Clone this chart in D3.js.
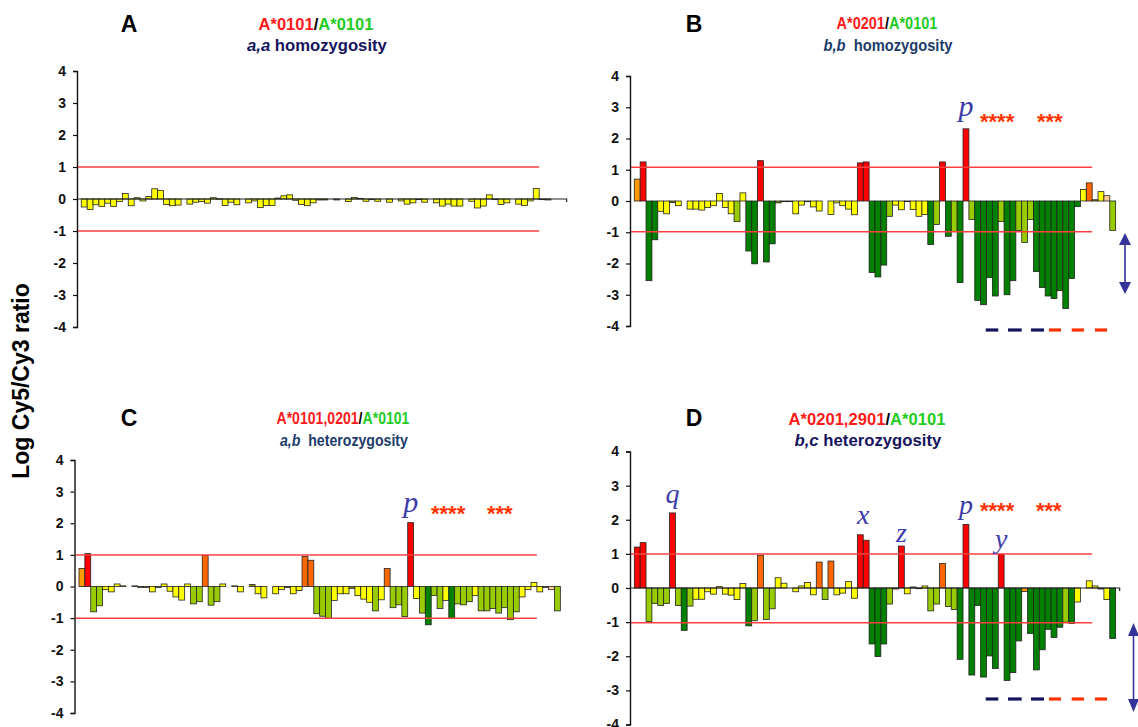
<!DOCTYPE html>
<html>
<head>
<meta charset="utf-8">
<script src="https://cdnjs.cloudflare.com/ajax/libs/d3/7.8.5/d3.min.js"></script>
<style>
  body { margin: 0; background: #fff; }
  svg { display: block; font-family: "Liberation Sans", Arial, sans-serif; }
</style>
</head>
<body>
<div id="chart"></div>
<script>
// Log Cy5/Cy3 ratio per probe (left to right)
var yTicks = [4, 3, 2, 1, 0, -1, -2, -3, -4];

var valuesA = [-0.25, -0.33, -0.18, -0.23, -0.13, -0.23, -0.08, 0.17, -0.21, 0.04,
    -0.06, 0.08, 0.32, 0.27, -0.17, -0.21, -0.19, 0, -0.16, -0.1,
    -0.08, -0.13, 0.04, 0.01, -0.2, -0.1, -0.18, 0, -0.12, -0.06,
    -0.27, -0.2, -0.2, 0.03, 0.1, 0.13, -0.04, -0.17, -0.21, -0.12,
    -0.03, -0.03, 0, -0.03, 0, -0.08, 0.05, 0.02, -0.07, -0.02,
    -0.07, 0, -0.1, 0, -0.06, -0.16, -0.12, -0.02, -0.1, 0,
    -0.12, -0.22, -0.16, -0.22, -0.22, 0, -0.07, -0.28, -0.22, 0.13,
    -0.02, -0.17, -0.12, 0, -0.16, -0.2, -0.06, 0.33, -0.02, -0.03];
var classesA = "yyyyyyyyyyyyyyyyyyyyyyyyyyyyyyyyyyyyyyyyyyyyyyyyyyyyyyyyyyyyyyyyyyyyyyyyyyyyyyyy";

var valuesB = [0.70, 1.25, -2.55, -1.24, -0.33, -0.41, -0.05, -0.15, 0, -0.26,
    -0.26, -0.29, -0.21, -0.15, 0.24, -0.21, -0.41, -0.66, 0.26, -1.6,
    -2.01, 1.29, -1.95, -1.37, -0.06, -0.02, -0.02, -0.41, -0.13, -0.02,
    -0.19, -0.32, 0, -0.43, -0.06, -0.15, -0.26, -0.44, 1.22, 1.25,
    -2.29, -2.43, -2.05, -0.49, -0.13, -0.28, -0.02, -0.27, -0.49, -0.43,
    -1.39, -0.75, 1.25, -1.13, -0.98, -2.61, 2.31, -0.59, -3.18, -3.32,
    -2.45, -3.04, -0.66, -3.0, -2.55, -0.94, -1.33, -0.59, -2.26, -2.77,
    -3.04, -3.12, -2.87, -3.44, -2.48, -0.18, 0.37, 0.58, 0.04, 0.3,
    0.17, -0.94];
var classesB = "arggyykyyy" + "yyyyyyylyg" + "grggkkkyyk" + "yyyyyyyyrr" + "ggglyykyyy" +
    "glrglgrlgg" + "gglgglllgg" + "ggggggyoky" + "pl";

var valuesC = [0.57, 1.04, -0.8, -0.61, -0.1, -0.17, 0.08, 0.02, 0, 0.02,
    -0.03, -0.03, -0.17, -0.03, 0.08, -0.15, -0.33, -0.43, 0.08, -0.55,
    -0.48, 0.98, -0.59, -0.48, 0.08, 0, 0.02, -0.17, 0, 0.06,
    -0.23, -0.36, 0, -0.23, -0.1, -0.03, -0.23, -0.13, 0.95, 0.83,
    -0.86, -0.94, -1.0, -0.44, -0.23, -0.23, -0.06, -0.29, -0.4, -0.5,
    -0.77, -0.42, 0.57, -0.67, -0.58, -0.95, 2.02, -0.38, -0.84, -1.21,
    -0.28, -0.7, -0.44, -1.01, -0.55, -0.58, -0.48, -0.29, -0.77, -0.77,
    -0.7, -0.84, -0.67, -1.05, -0.8, -0.33, -0.1, 0.13, -0.17, -0.03,
    -0.1, -0.77];
var classesC = "arllyyykyk" + "kkykyyyyyl" + "lollyykyyk" + "yyyyykyyoo" + "lllyyykyyy" +
    "lyolllrylg" + "llyglllyll" + "lllllyyyyk" + "pl";

var valuesD = [1.2, 1.33, -0.98, -0.45, -0.51, -0.45, 2.2, -0.51, -1.24, -0.53,
    -0.33, -0.33, -0.11, -0.18, 0.04, -0.18, -0.21, -0.34, 0.13, -1.11,
    -0.96, 0.96, -0.92, -0.61, 0.3, 0.14, 0, -0.11, 0.06, 0.16,
    -0.2, 0.76, -0.34, 0.79, -0.2, -0.15, 0.19, -0.3, 1.56, 1.4,
    -1.64, -2.01, -1.64, -0.47, -0.03, 1.23, -0.17, 0.03, -0.02, 0.06,
    -0.67, -0.47, 0.72, -0.54, -0.63, -2.09, 1.86, -2.55, -0.51, -2.61,
    -1.99, -2.36, 0.99, -2.71, -2.48, -1.55, -0.1, -1.33, -2.4, -1.81,
    -1.21, -1.45, -1.15, -1.0, -1.04, -0.41, 0, 0.21, 0.06, -0.03,
    -0.34, -1.48];
var classesD = "rrllllrlgl" + "yyyyyyyyyg" + "lollyyyyyy" + "yoloyyyyrr" + "ggglkrykky" +
    "llollgrggg" + "ggrgggaggg" + "ggglgyyyyk" + "yg";

// cut-off lines (log ratio)
var limitsA = [1, -1];
var limitsB = [1.08, -0.98];
var limitsC = [1, -1];
var limitsD = [1, -1.02];

// letter labels over bars (bar index, 0-based)
var labelsB = [{ bar: 56, text: "p" }];
var labelsC = [{ bar: 56, text: "p" }];
var labelsD = [{ bar: 6, text: "q" }, { bar: 38.5, text: "x" }, { bar: 45, text: "z" },
    { bar: 56, text: "p" }, { bar: 62, text: "y" }];

// Set colour for each bar class
var classColor = d3.scaleOrdinal()
    .domain(["r", "o", "a", "y", "l", "g", "p", "k"])
    .range(["#ff0000", "#ff6600", "#ff9900", "#ffff00", "#99cc00", "#008000", "#ffcc99", "#8a8a00"]);

var step = 5.87;
var blue = "#3c3ca8";
var starRed = "#ff3300";

var panels = [
    { id: "A", values: valuesA, classes: classesA, limits: limitsA, labels: [],
      axisX: 77, barX: 81.3, yTop: 71, yBottom: 327, zeroLine: true,
      letterX: 129, letterY: 32, titleX: 316, titleY: 30, subY: 51,
      t1: ["A*0101", "A*0101"], t1w: 115, sub: ["a,a", " homozygosity"], subw: 140, subColor: "#15155e",
      labelY: 0, stars: null },
    { id: "B", values: valuesB, classes: classesB, limits: limitsB, labels: labelsB,
      axisX: 630, barX: 634.3, yTop: 76, yBottom: 326, zeroLine: false,
      letterX: 694, letterY: 32, titleX: 887, titleY: 29, subY: 51,
      t1: ["A*0201", "A*0101"], t1w: 101, sub: ["b,b", "  homozygosity"], subw: 129, subColor: "#1d3b6b",
      labelSize: 30, labelOffset: [13], stars: { y: 129, x1: 980, x2: 1037 } },
    { id: "C", values: valuesC, classes: classesC, limits: limitsC, labels: labelsC,
      axisX: 74.5, barX: 79, yTop: 460, yBottom: 713, zeroLine: false,
      letterX: 129, letterY: 426, titleX: 343, titleY: 424, subY: 446,
      t1: ["A*0101,0201", "A*0101"], t1w: 133, sub: ["a,b", "  heterozygosity"], subw: 128, subColor: "#1d3b6b",
      labelSize: 30, labelOffset: [11], stars: { y: 521, x1: 431, x2: 487 } },
    { id: "D", values: valuesD, classes: classesD, limits: limitsD, labels: labelsD,
      axisX: 630, barX: 634.3, yTop: 451.5, yBottom: 724.5, zeroLine: true,
      letterX: 694, letterY: 426, titleX: 867, titleY: 425, subY: 446,
      t1: ["A*0201,2901", "A*0101"], t1w: 157, sub: ["b,c", " heterozygosity"], subw: 147, subColor: "#15155e",
      labelSize: 28, labelOffset: [10, 11, 4, 11, 6], stars: { y: 518, x1: 980, x2: 1036 } }
];

var svg = d3.select("#chart").append("svg")
    .attr("width", 1138)
    .attr("height", 727);

// Shrink or stretch a text to a given width around a centre
function fitText(text, cx, baseline, width) {
    var len = text.node().getComputedTextLength();
    text.attr("transform", "translate(" + (cx - width / 2) + "," + baseline + ") scale(" + (width / len) + ",1)");
}

panels.forEach(function (p) {
    var g = svg.append("g").attr("class", "panel-" + p.id);

    var y = d3.scaleLinear()
        .domain([-4, 4])
        .range([p.yBottom, p.yTop]);

    var x = d3.scaleBand()
        .domain(d3.range(p.values.length))
        .range([p.barX, p.barX + p.values.length * step])
        .padding(0);

    var bars = p.values.map(function (v, i) {
        return { i: i, v: v, c: p.classes[i] };
    }).filter(function (d) { return d.v !== 0; });

    // Bars
    g.selectAll(".bar")
        .data(bars)
        .enter().append("rect")
        .attr("class", "bar")
        .attr("x", function (d) { return x(d.i); })
        .attr("width", x.bandwidth())
        .attr("y", function (d) { return y(Math.max(0, d.v)); })
        .attr("height", function (d) { return Math.max(0.6, Math.abs(y(d.v) - y(0))); })
        .attr("fill", function (d) { return classColor(d.c); })
        .attr("stroke", "#222")
        .attr("stroke-width", 0.8);

    // Zero line
    if (p.zeroLine) {
        var xz = p.barX + 82 * step + 4;
        g.append("path")
            .attr("d", "M" + p.axisX + "," + y(0) + "H" + xz + "v3")
            .attr("fill", "none")
            .attr("stroke", "#222")
            .attr("stroke-width", 1.2);
    }

    // Cut-off lines
    g.selectAll(".limit")
        .data(p.limits)
        .enter().append("line")
        .attr("class", "limit")
        .attr("x1", p.axisX + 1)
        .attr("x2", p.barX + 78 * step)
        .attr("y1", function (d) { return y(d); })
        .attr("y2", function (d) { return y(d); })
        .attr("stroke", "#ff4040")
        .attr("stroke-width", 1.5);

    // Y axis
    var axis = g.append("g")
        .attr("transform", "translate(" + p.axisX + ",0)")
        .call(d3.axisLeft(y).tickValues(yTicks).tickSize(4).tickSizeOuter(4).tickPadding(7)
            .tickFormat(function (d) { return String(d); }));
    axis.select(".domain").attr("stroke", "#111").attr("stroke-width", 1.4);
    axis.selectAll(".tick line").attr("stroke", "#111").attr("stroke-width", 1.2);
    axis.selectAll(".tick text")
        .attr("font-family", "'Liberation Sans', Arial, sans-serif")
        .attr("font-size", "14px")
        .attr("font-weight", "bold")
        .attr("fill", "#111");

    // Panel letter
    g.append("text")
        .attr("x", p.letterX)
        .attr("y", p.letterY)
        .attr("text-anchor", "middle")
        .attr("font-size", "23px")
        .attr("font-weight", "bold")
        .text(p.id);

    // Title: test allele / reference allele
    var t1 = g.append("text")
        .attr("font-size", "17px")
        .attr("font-weight", "bold");
    t1.append("tspan").attr("fill", "#ff1a1a").text(p.t1[0]);
    t1.append("tspan").attr("fill", "#000").text("/");
    t1.append("tspan").attr("fill", "#1fcc1f").text(p.t1[1]);
    fitText(t1, p.titleX, p.titleY, p.t1w);

    var t2 = g.append("text")
        .attr("font-size", "16px")
        .attr("font-weight", "bold")
        .attr("fill", p.subColor)
        .attr("xml:space", "preserve")
        .style("white-space", "pre");
    t2.append("tspan").attr("font-style", "italic").text(p.sub[0]);
    t2.append("tspan").text(p.sub[1]);
    fitText(t2, p.titleX + 1, p.subY, p.subw);

    // Letter labels over peaks
    p.labels.forEach(function (lab, k) {
        var bi = Math.floor(lab.bar);
        var top = d3.max([p.values[bi], p.values[Math.ceil(lab.bar)]]);
        var cx = p.barX + (lab.bar + 0.5) * step;
        var off = p.labelOffset[k] !== undefined ? p.labelOffset[k] : p.labelOffset[0];
        g.append("text")
            .attr("x", cx)
            .attr("y", y(top) - off)
            .attr("text-anchor", "middle")
            .attr("font-family", "'Liberation Serif', 'Times New Roman', serif")
            .attr("font-style", "italic")
            .attr("font-size", p.labelSize + "px")
            .attr("fill", blue)
            .text(lab.text);
    });

    // Significance stars
    if (p.stars) {
        [[p.stars.x1, "****"], [p.stars.x2, "***"]].forEach(function (s) {
            g.append("text")
                .attr("x", s[0])
                .attr("y", p.stars.y)
                .attr("font-size", "22px")
                .attr("font-weight", "bold")
                .attr("fill", starRed)
                .text(s[1]);
        });
    }
});

// Double arrows at the right of B and D
function doubleArrow(cx, y1, y2, w, h) {
    var a = svg.append("g").attr("fill", "#333399").attr("stroke", "#333399");
    a.append("line")
        .attr("x1", cx).attr("x2", cx)
        .attr("y1", y1 + h - 1).attr("y2", y2 - h + 1)
        .attr("stroke-width", 1.6);
    a.append("path")
        .attr("stroke", "none")
        .attr("d", "M" + cx + "," + y1 + "L" + (cx + w / 2) + "," + (y1 + h) + "L" + (cx - w / 2) + "," + (y1 + h) + "Z");
    a.append("path")
        .attr("stroke", "none")
        .attr("d", "M" + cx + "," + y2 + "L" + (cx + w / 2) + "," + (y2 - h) + "L" + (cx - w / 2) + "," + (y2 - h) + "Z");
}
doubleArrow(1125, 233, 294, 12, 12);
doubleArrow(1133.5, 623, 712, 11, 13);

// Dashed bars under B and D
var dashNavy = [[985.7, 998.3], [1008, 1021.7], [1031, 1044]];
var dashRed = [[1049, 1061], [1071.7, 1084], [1095, 1107]];
[330, 699].forEach(function (yy) {
    dashNavy.forEach(function (d) {
        svg.append("line").attr("x1", d[0]).attr("x2", d[1]).attr("y1", yy).attr("y2", yy)
            .attr("stroke", "#14145e").attr("stroke-width", 3.2);
    });
    dashRed.forEach(function (d) {
        svg.append("line").attr("x1", d[0]).attr("x2", d[1]).attr("y1", yy).attr("y2", yy)
            .attr("stroke", starRed).attr("stroke-width", 3.2);
    });
});

// Shared y label
svg.append("text")
    .attr("transform", "translate(29,381) rotate(-90)")
    .attr("text-anchor", "middle")
    .attr("font-size", "23px")
    .attr("font-weight", "bold")
    .text("Log Cy5/Cy3 ratio");
</script>
</body>
</html>
